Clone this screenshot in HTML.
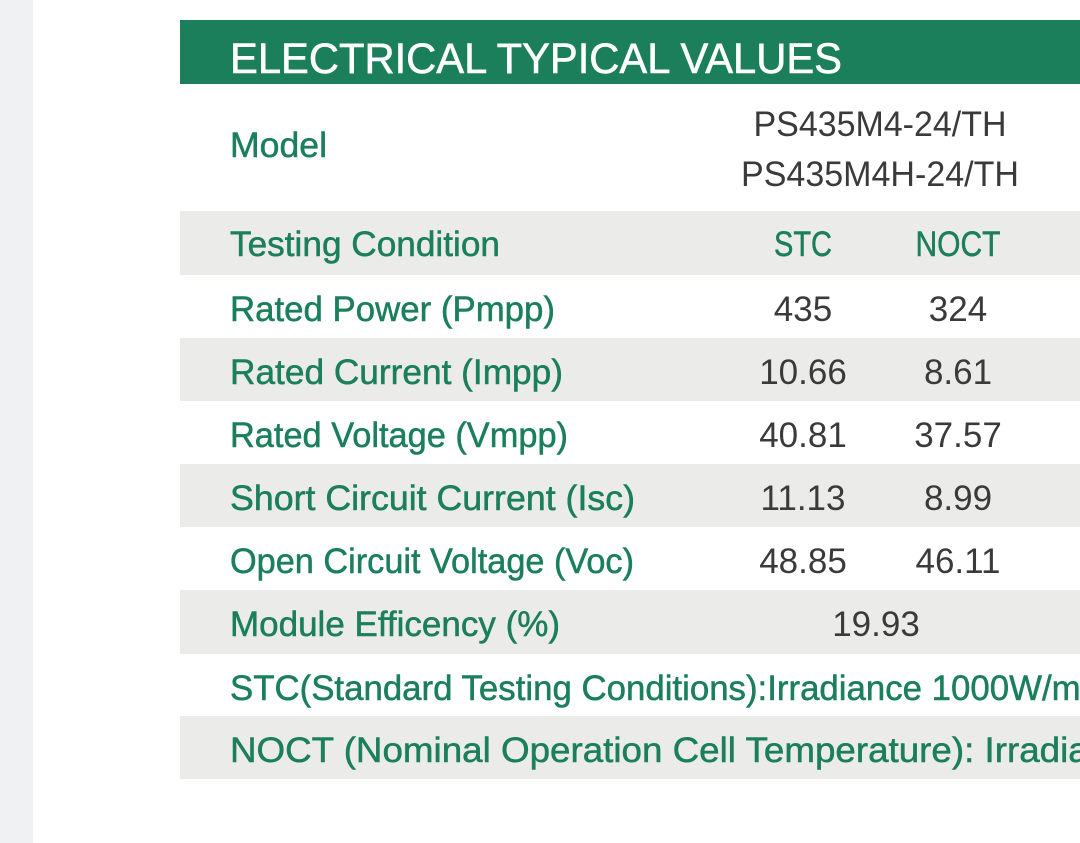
<!DOCTYPE html>
<html><head><meta charset="utf-8"><style>
html,body{margin:0;padding:0;background:#fff;}
svg{display:block;}
.lab{font-family:"Liberation Sans",sans-serif;font-size:35px;fill:#1b7f5c;stroke:#1b7f5c;stroke-width:0.5;}
.val{font-family:"Liberation Sans",sans-serif;font-size:35px;fill:#3a3a3a;}
</style></head><body>
<svg width="1080" height="843" viewBox="0 0 1080 843">
<rect x="0" y="0" width="33" height="843" fill="#f0f1f3"/>
<rect x="180" y="20" width="900" height="64" fill="#1b7f5c"/>
<text x="230" y="73" font-family="Liberation Sans, sans-serif" font-size="43" fill="#fff" stroke="#fff" stroke-width="0.6" textLength="612" lengthAdjust="spacingAndGlyphs">ELECTRICAL TYPICAL VALUES</text>
<g id="rows"></g>
</svg>
<script>
const labels=["Testing Condition","Rated Power (Pmpp)","Rated Current (Impp)","Rated Voltage (Vmpp)","Short Circuit Current (Isc)","Open Circuit Voltage (Voc)","Module Efficency (%)","STC(Standard Testing Conditions):Irradiance 1000W/m2","NOCT (Nominal Operation Cell Temperature): Irradiance"];
const labelWidths=[270,325,333,338,405,404,330,870,918];
const stcVals=["STC","435","10.66","40.81","11.13","48.85"];
const noctVals=["NOCT","324","8.61","37.57","8.99","46.11"];
const efficiency="19.93";
const ns="http://www.w3.org/2000/svg";
const g=document.getElementById('rows');
function txt(x,y,s,cls,w,anchor){
  const t=document.createElementNS(ns,'text');
  t.setAttribute('x',x);t.setAttribute('y',y);t.setAttribute('class',cls);
  if(anchor)t.setAttribute('text-anchor',anchor);
  if(w){t.setAttribute('textLength',w);t.setAttribute('lengthAdjust','spacingAndGlyphs');}
  t.textContent=s;g.appendChild(t);return t;
}
let m=txt(230,157,"Model","lab",97);


let m1=txt(880,136,"PS435M4-24/TH","val",253,"middle");


let m2=txt(880,186,"PS435M4H-24/TH","val",278,"middle");


const tops=[211,275,338,401,464,527,590,654,716];
for(let i=0;i<labels.length;i++){
  const top=tops[i];
  if(i%2===0){
    const r=document.createElementNS(ns,'rect');
    r.setAttribute('x',180);r.setAttribute('y',top);r.setAttribute('width',900);r.setAttribute('height',(i+1<tops.length?tops[i+1]:779)-top);
    r.setAttribute('fill','#ebebe9');
    
    
    g.appendChild(r);
  }
  const base=top+(i===0?45:46);
  const l=txt(230,base,labels[i],"lab",labelWidths[i]);
  
  
  if(i<stcVals.length){
    const cls=i===0?"lab":"val";
    const a=txt(803,base,stcVals[i],cls,i===0?58:null,"middle");
    
    
    const b=txt(958,base,noctVals[i],cls,i===0?85:null,"middle");
    
    
  }
  if(i===6){
    const e=txt(876,base,efficiency,"val",null,"middle");
    
    
  }
}
</script>
</body></html>
